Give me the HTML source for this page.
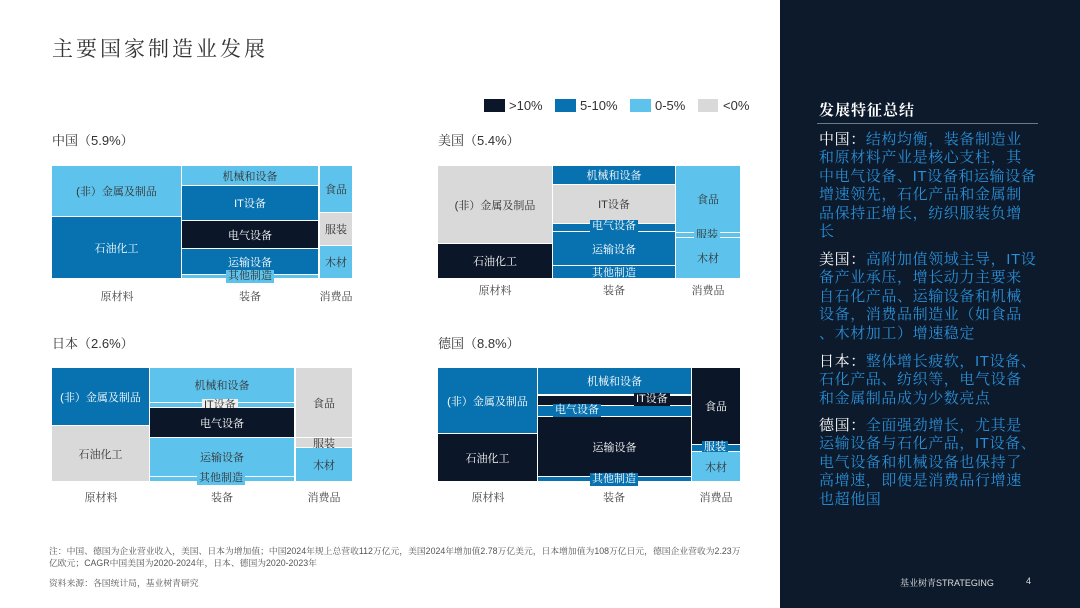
<!DOCTYPE html>
<html><head><meta charset="utf-8"><style>
*{margin:0;padding:0;box-sizing:border-box}
body{width:1080px;height:608px;position:relative;background:#fff;font-family:"Liberation Sans","Noto Serif CJK SC","Noto Sans CJK SC",sans-serif;overflow:hidden}
.a{position:absolute}
.c{position:absolute;display:flex;align-items:center;justify-content:center;font-size:11px;white-space:nowrap;font-family:"Liberation Sans","Noto Serif CJK SC",serif}
.D{background:#0b1628;color:#fff}.M{background:#0872b0;color:#fff}.L{background:#5ec3ec;color:#333}.G{background:#d9d9d9;color:#333}
.t{color:#333;font-size:13px;font-family:"Liberation Sans","Noto Serif CJK SC",serif}
.x{position:absolute;font-size:11px;color:#444;font-family:"Liberation Sans","Noto Serif CJK SC",serif;transform:translateX(-50%)}
.lb{position:absolute;padding:0 2px;font-size:11px;line-height:13px;font-family:"Liberation Sans","Noto Serif CJK SC",serif}
#p{position:absolute;left:780px;top:0;width:300px;height:608px;background:#0c1a2c}
.r{position:absolute;left:39px;font-size:15px;color:#2a8fd6;white-space:nowrap;letter-spacing:0.6px;font-family:"Liberation Sans","Noto Serif CJK SC",serif;line-height:18px}
.r b{color:#fff;font-weight:normal}
</style></head><body>
<div class="a" style="left:52px;top:33px;font-size:21px;letter-spacing:3px;color:#333;font-family:'Liberation Serif','Noto Serif CJK SC',serif">主要国家制造业发展</div>

<!-- legend -->
<div class="a D" style="left:484px;top:99px;width:21px;height:13px"></div><div class="a" style="left:509px;top:98px;font-size:13px;color:#333">&gt;10%</div>
<div class="a M" style="left:555px;top:99px;width:21px;height:13px"></div><div class="a" style="left:580px;top:98px;font-size:13px;color:#333">5-10%</div>
<div class="a L" style="left:630px;top:99px;width:21px;height:13px"></div><div class="a" style="left:655px;top:98px;font-size:13px;color:#333">0-5%</div>
<div class="a G" style="left:698px;top:99px;width:20px;height:13px"></div><div class="a" style="left:723px;top:98px;font-size:13px;color:#333">&lt;0%</div>

<!-- China -->
<div class="a t" style="left:52px;top:130px">中国（5.9%）</div>
<div class="c L" style="left:52px;top:166px;width:129px;height:50px">(非）金属及制品</div>
<div class="c M" style="left:52px;top:217px;width:129px;height:61px">石油化工</div>
<div class="c L" style="left:182px;top:166px;width:136px;height:19px">机械和设备</div>
<div class="c M" style="left:182px;top:186px;width:136px;height:34px">IT设备</div>
<div class="c D" style="left:182px;top:221px;width:136px;height:27px">电气设备</div>
<div class="c M" style="left:182px;top:249px;width:136px;height:25px">运输设备</div>
<div class="c L" style="left:182px;top:275px;width:136px;height:3px"></div>
<div class="lb L" style="left:226px;top:270px">其他制造</div>
<div class="c L" style="left:320px;top:166px;width:32px;height:46px">食品</div>
<div class="c G" style="left:320px;top:213px;width:32px;height:32px">服装</div>
<div class="c L" style="left:320px;top:246px;width:32px;height:32px">木材</div>
<div class="x" style="left:117px;top:288px">原材料</div><div class="x" style="left:250px;top:288px">装备</div><div class="x" style="left:336px;top:288px">消费品</div>

<!-- US -->
<div class="a t" style="left:438px;top:130px">美国（5.4%）</div>
<div class="c G" style="left:438px;top:166px;width:114px;height:77px">(非）金属及制品</div>
<div class="c D" style="left:438px;top:244px;width:114px;height:34px">石油化工</div>
<div class="c M" style="left:553px;top:166px;width:122px;height:18px">机械和设备</div>
<div class="c G" style="left:553px;top:185px;width:122px;height:38px">IT设备</div>
<div class="c M" style="left:553px;top:224px;width:122px;height:7px"></div>
<div class="lb M" style="left:590px;top:220px;color:#fff">电气设备</div>
<div class="c M" style="left:553px;top:232px;width:122px;height:33px">运输设备</div>
<div class="c M" style="left:553px;top:266px;width:122px;height:12px">其他制造</div>
<div class="c L" style="left:676px;top:166px;width:64px;height:66px">食品</div>
<div class="c L" style="left:676px;top:233px;width:64px;height:4px"></div>
<div class="lb L" style="left:694px;top:229px;color:#333">服装</div>
<div class="c L" style="left:676px;top:238px;width:64px;height:40px">木材</div>
<div class="x" style="left:495px;top:282px">原材料</div><div class="x" style="left:614px;top:282px">装备</div><div class="x" style="left:708px;top:282px">消费品</div>

<!-- Japan -->
<div class="a t" style="left:52px;top:333px">日本（2.6%）</div>
<div class="c M" style="left:52px;top:368px;width:97px;height:57px">(非）金属及制品</div>
<div class="c G" style="left:52px;top:426px;width:97px;height:55px">石油化工</div>
<div class="c L" style="left:150px;top:368px;width:144px;height:34px">机械和设备</div>
<div class="c L" style="left:150px;top:403px;width:144px;height:4px"></div>
<div class="lb" style="left:202px;top:399px;background:#eee;color:#333">IT设备</div>
<div class="c D" style="left:150px;top:408px;width:144px;height:29px">电气设备</div>
<div class="c L" style="left:150px;top:438px;width:144px;height:38px">运输设备</div>
<div class="c L" style="left:150px;top:477px;width:144px;height:4px"></div>
<div class="lb L" style="left:197px;top:472px">其他制造</div>
<div class="c G" style="left:296px;top:368px;width:56px;height:69px">食品</div>
<div class="c G" style="left:296px;top:438px;width:56px;height:9px">服装</div>
<div class="c L" style="left:296px;top:448px;width:56px;height:33px">木材</div>
<div class="x" style="left:101px;top:489px">原材料</div><div class="x" style="left:222px;top:489px">装备</div><div class="x" style="left:324px;top:489px">消费品</div>

<!-- Germany -->
<div class="a t" style="left:438px;top:333px">德国（8.8%）</div>
<div class="c M" style="left:438px;top:368px;width:99px;height:65px">(非）金属及制品</div>
<div class="c D" style="left:438px;top:434px;width:99px;height:47px">石油化工</div>
<div class="c M" style="left:538px;top:368px;width:153px;height:26px">机械和设备</div>
<div class="c D" style="left:538px;top:396px;width:153px;height:9px"></div>
<div class="lb D" style="left:634px;top:393px;color:#fff">IT设备</div>
<div class="c M" style="left:538px;top:406px;width:153px;height:10px"></div>
<div class="lb M" style="left:553px;top:404px;color:#fff">电气设备</div>
<div class="c D" style="left:538px;top:417px;width:153px;height:59px">运输设备</div>
<div class="c M" style="left:538px;top:477px;width:153px;height:4px"></div>
<div class="lb M" style="left:590px;top:473px;color:#fff">其他制造</div>
<div class="c D" style="left:692px;top:368px;width:48px;height:76px">食品</div>
<div class="c M" style="left:692px;top:445px;width:48px;height:6px"></div>
<div class="lb M" style="left:702px;top:441px;color:#fff">服装</div>
<div class="c L" style="left:692px;top:452px;width:48px;height:29px">木材</div>
<div class="x" style="left:488px;top:489px">原材料</div><div class="x" style="left:614px;top:489px">装备</div><div class="x" style="left:716px;top:489px">消费品</div>

<!-- footnote -->
<div class="a" style="left:49px;top:545px;font-size:8.8px;color:#555;line-height:12px;width:730px;font-family:'Liberation Sans','Noto Serif CJK SC',serif">注：中国、德国为企业营业收入，美国、日本为增加值；中国2024年规上总营收112万亿元，美国2024年增加值2.78万亿美元，日本增加值为108万亿日元，德国企业营收为2.23万<br>亿欧元；CAGR中国美国为2020-2024年，日本、德国为2020-2023年</div>
<div class="a" style="left:49px;top:576px;font-size:8.8px;color:#555;font-family:'Liberation Sans','Noto Serif CJK SC',serif">资料来源：各国统计局，基业树青研究</div>

<!-- right panel -->
<div id="p">
<div class="a" style="left:39px;top:99px;font-size:15px;color:#fff;font-weight:bold;letter-spacing:1px;font-family:'Liberation Sans','Noto Serif CJK SC',serif">发展特征总结</div>
<div class="a" style="left:37px;top:123px;width:221px;height:1px;background:#6a7a8c"></div>
<div class="r" style="top:131px"><b>中国：</b>结构均衡，装备制造业</div>
<div class="r" style="top:149px">和原材料产业是核心支柱，其</div>
<div class="r" style="top:168px">中电气设备、IT设备和运输设备</div>
<div class="r" style="top:186px">增速领先，石化产品和金属制</div>
<div class="r" style="top:205px">品保持正增长，纺织服装负增</div>
<div class="r" style="top:223px">长</div>
<div class="r" style="top:251px"><b>美国：</b>高附加值领域主导，IT设</div>
<div class="r" style="top:269px">备产业承压，增长动力主要来</div>
<div class="r" style="top:288px">自石化产品、运输设备和机械</div>
<div class="r" style="top:306px">设备，消费品制造业（如食品</div>
<div class="r" style="top:325px">、木材加工）增速稳定</div>
<div class="r" style="top:353px"><b>日本：</b>整体增长疲软，IT设备、</div>
<div class="r" style="top:371px">石化产品、纺织等，电气设备</div>
<div class="r" style="top:390px">和金属制品成为少数亮点</div>
<div class="r" style="top:417px"><b>德国：</b>全面强劲增长，尤其是</div>
<div class="r" style="top:435px">运输设备与石化产品，IT设备、</div>
<div class="r" style="top:454px">电气设备和机械设备也保持了</div>
<div class="r" style="top:472px">高增速，即便是消费品行增速</div>
<div class="r" style="top:491px">也超他国</div>
<div class="a" style="left:120px;top:576px;font-size:9px;color:#ddd">基业树青STRATEGING</div>
<div class="a" style="left:246px;top:576px;font-size:9px;color:#ddd">4</div>
</div>
</body></html>
